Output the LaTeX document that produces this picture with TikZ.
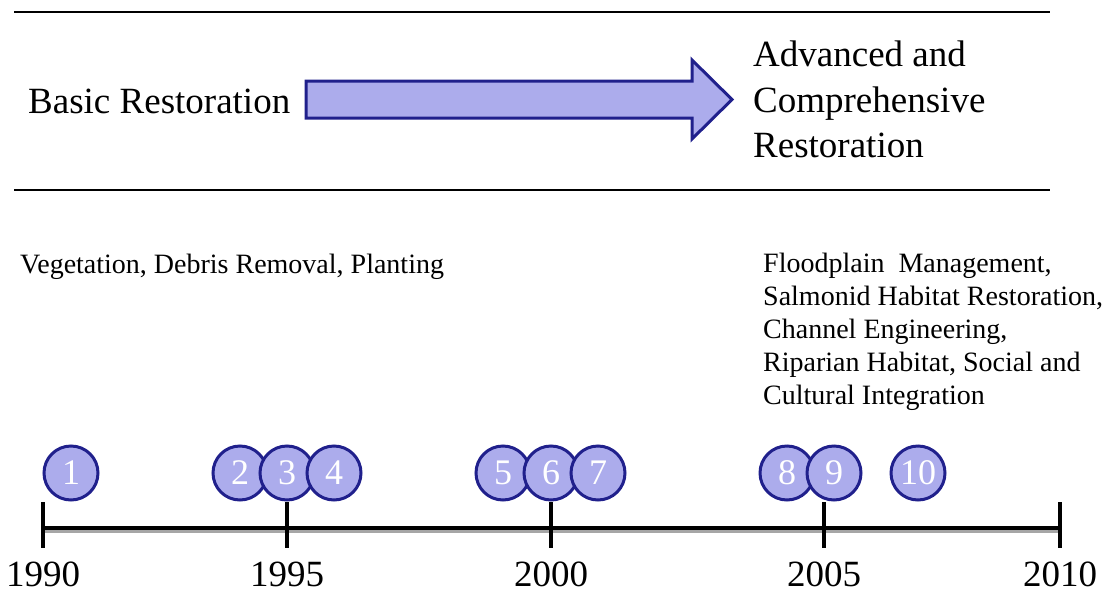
\documentclass[tikz,border=0pt]{standalone}
\usepackage{fontspec}
\setmainfont{Liberation Serif}
\definecolor{evtfill}{RGB}{172,172,236}
\definecolor{evtline}{RGB}{32,32,140}
\tikzset{
  evt/.style={circle, draw=evtline, fill=evtfill, line width=3pt,
    minimum size=54pt, inner sep=0pt, text=white,
    font=\fontsize{36}{36}\selectfont},
  big/.style={inner sep=0pt, font=\fontsize{37}{45.5}\selectfont},
  small/.style={inner sep=0pt, font=\fontsize{28}{33}\selectfont},
  year/.style={inner sep=0pt, anchor=base, font=\fontsize{37}{37}\selectfont},
  rule/.style={line width=1.2pt},
  axis/.style={line width=4pt},
  tick/.style={line width=4pt},
}
\begin{document}
\begin{tikzpicture}[x=1pt,y=-1pt]
  \useasboundingbox (0,0) rectangle (1106,592);
  % rules above and below the arrow
  \draw[rule] (14,12) -- (1050,12);
  \draw[rule] (14,190) -- (1050,190);
  % the big arrow
  \filldraw[draw=evtline, fill=evtfill, line width=3pt, line join=miter]
    (306,81) -- (692,81) -- (692,60) -- (732,99.5) -- (692,139)
    -- (692,118) -- (306,118) -- cycle;
  \node[big, anchor=base west] (basic) at (28,113) {Basic Restoration};
  \node[big, anchor=north west, align=left] (adv) at (753,41)
    {Advanced and\\Comprehensive\\Restoration};
  \node[small, anchor=base west] (basictasks) at (20,273)
    {Vegetation, Debris Removal, Planting};
  \node[small, anchor=north west, align=left] (advtasks) at (763,253)
    {Floodplain\ \ Management,\\Salmonid Habitat Restoration,\\Channel Engineering,\\Riparian Habitat, Social and\\Cultural Integration};
  % time axis
  \path
    (43,528) coordinate (t0)
    (287,528) coordinate (t1)
    (551,528) coordinate (t2)
    (824,528) coordinate (t3)
    (1060,528) coordinate (t4);
  \draw[line width=3pt, black!35] (t0) ++(0,3) -- ++(1017,0);
  \draw[axis] (t0) -- (t4);
  \foreach \t/\yr in {t0/1990,t1/1995,t2/2000,t3/2005,t4/2010} {
    \draw[tick] (\t) ++(0,-26) -- ++(0,46);
    \path (\t) ++(0,58) node[year] (y\yr) {\yr};
  }
  % events
  \path
    (71,473) node[evt] (e1){1}
    (240,473) node[evt] (e2){2}
    (287,473) node[evt] (e3){3}
    (334,473) node[evt] (e4){4}
    (503,473) node[evt] (e5){5}
    (551,473) node[evt] (e6){6}
    (598,473) node[evt] (e7){7}
    (787,473) node[evt] (e8){8}
    (834,473) node[evt] (e9){9}
    (918,473) node[evt] (e10){10};
\end{tikzpicture}
\end{document}
